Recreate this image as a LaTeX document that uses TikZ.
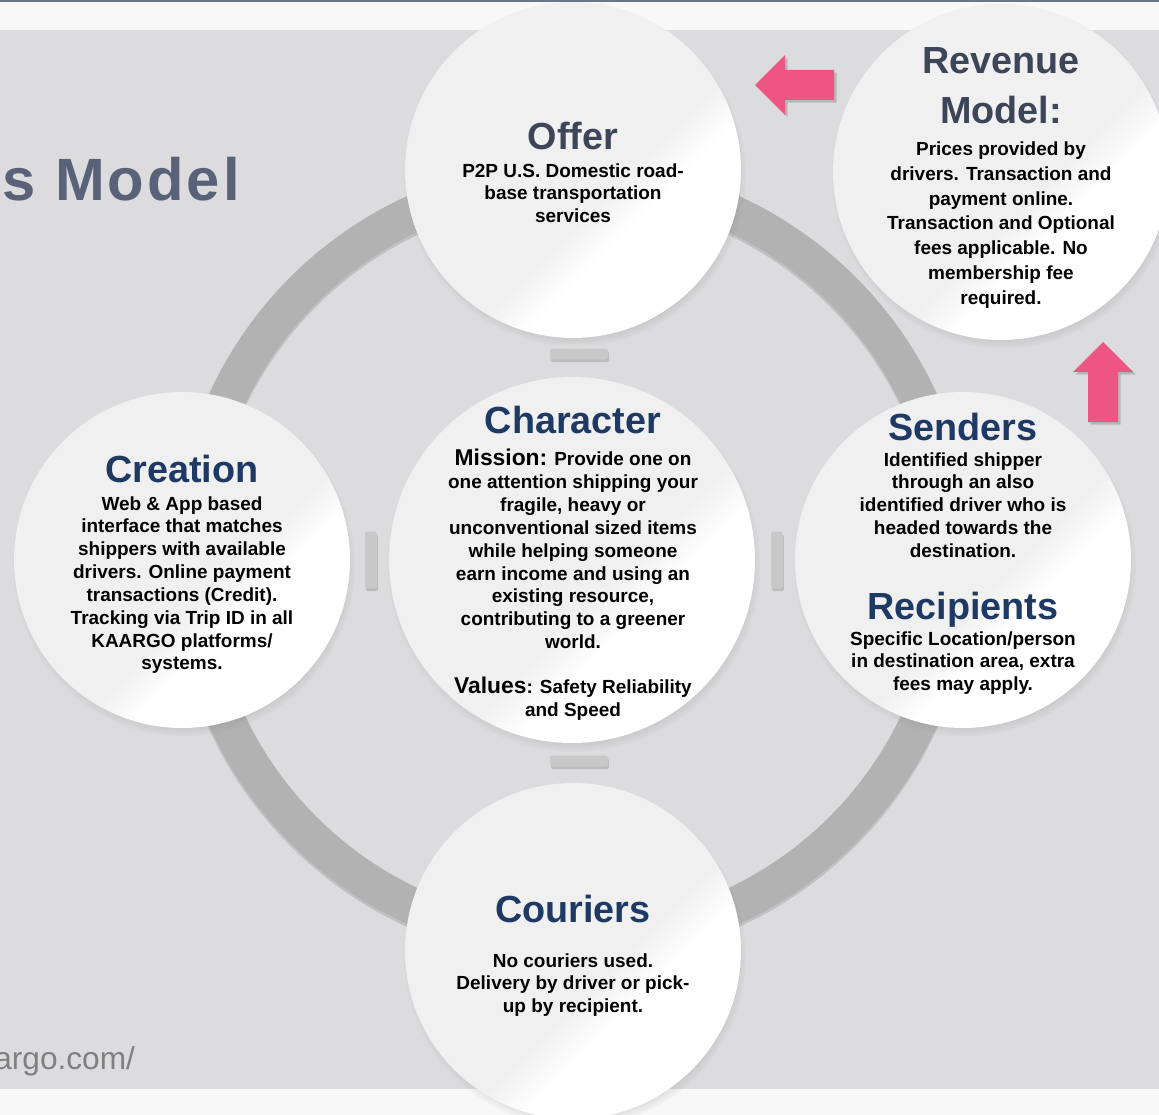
\documentclass[tikz,border=0pt]{standalone}
\usepackage{fontspec}
\setmainfont{Liberation Sans}
\newfontfamily\titlefont[LetterSpace=5]{Liberation Sans}
\usetikzlibrary{shadows,fadings}

\definecolor{bggray}{HTML}{DCDCDE}
\definecolor{bandwhite}{HTML}{F8F8F8}
\definecolor{topline}{HTML}{6B7489}
\definecolor{ringgray}{HTML}{B2B2B2}
\definecolor{bargray}{HTML}{C8C8C8}
\definecolor{glossgray}{HTML}{F0F0F0}
\definecolor{kpink}{HTML}{EC5584}
\definecolor{knavy}{HTML}{1E3A64}
\definecolor{kslate}{HTML}{3D4559}
\definecolor{ktitle}{HTML}{5A6279}
\definecolor{kurl}{HTML}{808080}

\pgfdeclarehorizontalshading{gloss}{100bp}{color(0bp)=(glossgray); color(56bp)=(glossgray); color(62bp)=(white); color(100bp)=(white)}

\tikzset{
  bubble/.style={circle, minimum size=6.72cm, inner sep=0pt, shade, shading=gloss, shading angle=-45,
    circular drop shadow={shadow scale=1.02, shadow xshift=1pt, shadow yshift=-3pt, opacity=.5}},
  bigbubble/.style={bubble, minimum size=7.32cm},
  heading/.style={anchor=north, inner sep=0pt, text=knavy, font=\bfseries\fontsize{21.5pt}{26pt}\selectfont},
  blurb/.style={anchor=north, inner sep=0pt, align=center, font=\bfseries\fontsize{10.8pt}{13pt}\selectfont},
  gapbar/.style={rectangle, rounded corners=1pt, fill=bargray, inner sep=0pt,
    drop shadow={shadow xshift=.5pt, shadow yshift=-1.5pt, opacity=.35}},
  blockarrow/.style={fill=kpink, drop shadow={shadow xshift=1.5pt, shadow yshift=-1.5pt, opacity=.4}},
}

\begin{document}
\begin{tikzpicture}[x=0.02cm, y=-0.02cm]
    \useasboundingbox (0,0) rectangle (1159,1115);
    \clip (0,0) rectangle (1159,1115);

    % background and bands
    \fill[bandwhite] (0,0) rectangle (1159,1115);
    \fill[bggray] (0,30) rectangle (1159,1089);

    % the big ring
    \draw[line width=0.74cm, black, opacity=.12] ([shift={(0,3)}]573,560) circle[radius=7.63cm];
    \draw[line width=0.74cm, ringgray] (573,560) circle[radius=7.63cm];

    % pink arrows
    \fill[blockarrow] (755,85) -- (785,55) -- (785,70) -- (834,70) -- (834,100) -- (785,100) -- (785,115) -- cycle;
    \fill[blockarrow] (1103,342) -- (1133,372) -- (1118,372) -- (1118,422) -- (1088,422) -- (1088,372) -- (1073,372) -- cycle;

    % bubbles
    \node[bubble] (offer) at (573,170) {};
    \node[bubble] (revenue) at (1001,172) {};
    \node[bubble] (creation) at (182,560) {};
    \node[bigbubble] (character) at (572,560) {};
    \node[bubble] (senders) at (963,560) {};
    \node[bubble] (couriers) at (573,951) {};

    % small bars between the bubbles
    \node[gapbar, minimum width=1.16cm, minimum height=0.22cm] (gap-top) at (579,354) {};
    \node[gapbar, minimum width=1.16cm, minimum height=0.22cm] (gap-bottom) at (579,761) {};
    \node[gapbar, minimum width=0.24cm, minimum height=1.14cm] (gap-left) at (371,560) {};
    \node[gapbar, minimum width=0.24cm, minimum height=1.14cm] (gap-right) at (777,560) {};

    % texts
    \node[anchor=base west, inner sep=0pt, text=ktitle, font=\titlefont\bfseries\fontsize{34pt}{40pt}\selectfont] (title) at (2,200) {s Model};
    \node[anchor=base west, inner sep=0pt, text=kurl, font=\fontsize{18pt}{21pt}\selectfont] (site) at (-6,1069) {argo.com/};

    \node[heading, text=kslate] (offer-head) at (573,122) {Offer};
    \node[blurb] (offer-text) at (573,163) {P2P U.S. Domestic road-\\base transportation\\services};

    \node[heading, text=kslate, align=center, font=\bfseries\fontsize{21.5pt}{28.3pt}\selectfont] (revenue-head) at (1001,47) {Revenue\\Model:};
    \node[blurb, font=\bfseries\fontsize{10.8pt}{14.2pt}\selectfont] (revenue-text) at (1001,141) {Prices provided by\\drivers. Transaction and\\payment online.\\Transaction and Optional\\fees applicable. No\\membership fee\\required.};

    \node[heading] (character-head) at (573,406) {Character};
    \node[blurb] (mission-text) at (573,449) {{\fontsize{13pt}{13pt}\selectfont Mission:} Provide one on\\one attention shipping your\\fragile, heavy or\\unconventional sized items\\while helping someone\\earn income and using an\\existing resource,\\contributing to a greener\\world.};
    \node[blurb] (values-text) at (573,677) {{\fontsize{13pt}{13pt}\selectfont Values}: Safety Reliability\\and Speed};

    \node[heading] (creation-head) at (182,455) {Creation};
    \node[blurb] (creation-text) at (182,496) {Web \& App based\\interface that matches\\shippers with available\\drivers. Online payment\\transactions (Credit).\\Tracking via Trip ID in all\\KAARGO platforms/\\systems.};

    \node[heading] (senders-head) at (963,413) {Senders};
    \node[blurb] (senders-text) at (963,452) {Identified shipper\\through an also\\identified driver who is\\headed towards the\\destination.};
    \node[heading] (recipients-head) at (963,592) {Recipients};
    \node[blurb] (recipients-text) at (963,631) {Specific Location/person\\in destination area, extra\\fees may apply.};

    \node[heading] (couriers-head) at (573,895) {Couriers};
    \node[blurb] (couriers-text) at (573,953) {No couriers used.\\Delivery by driver or pick-\\up by recipient.};

    % top rule
    \fill[topline] (0,0) rectangle (1159,2);
\end{tikzpicture}
\end{document}
